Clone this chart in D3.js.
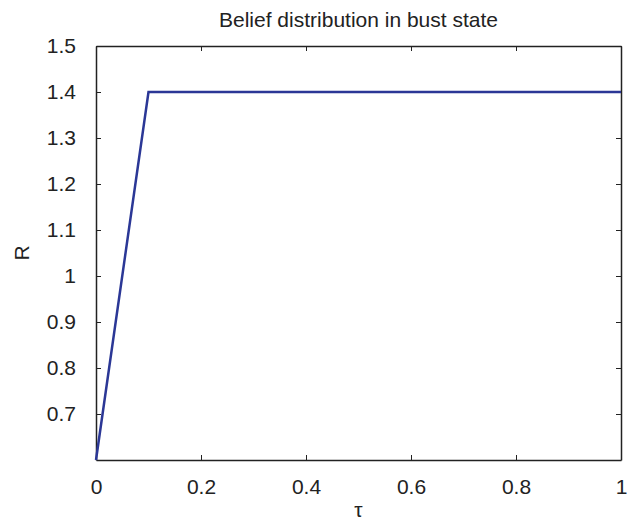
<!DOCTYPE html>
<html>
<head>
<meta charset="utf-8">
<script src="https://cdn.jsdelivr.net/npm/d3@7"></script>
<style>
  body { margin: 0; background: #fff; }
  text { font-family: "Liberation Sans", Arial, sans-serif; fill: #222; }
</style>
</head>
<body>
<div id="chart"></div>
<script>
var tau = [0, 0.1, 0.2, 0.3, 0.4, 0.5, 0.6, 0.7, 0.8, 0.9, 1];
var R = [0.6, 1.4, 1.4, 1.4, 1.4, 1.4, 1.4, 1.4, 1.4, 1.4, 1.4];
var xTicks = [0, 0.2, 0.4, 0.6, 0.8, 1];
var yTicks = [0.7, 0.8, 0.9, 1, 1.1, 1.2, 1.3, 1.4, 1.5];

var W = 627, H = 522,
    margin = {top: 46, right: 6, bottom: 62, left: 96},
    width = W - margin.left - margin.right,
    height = H - margin.top - margin.bottom;

var svg = d3.select("#chart").append("svg").attr("width", W).attr("height", H),
    g = svg.append("g").attr("transform", "translate(" + margin.left + "," + margin.top + ")");

var x = d3.scaleLinear().domain([0, 1]).range([0, width]),
    y = d3.scaleLinear().domain([0.6, 1.5]).range([height, 0]);

function fmt(d) { return d3.format("")(+d.toFixed(1)); }

// axes with inward ticks on all sides
g.append("g").attr("transform", "translate(0," + height + ")")
  .call(d3.axisBottom(x).tickValues(xTicks).tickSizeInner(-5).tickSizeOuter(0).tickPadding(19).tickFormat(fmt));
g.append("g").call(d3.axisTop(x).tickValues(xTicks).tickSizeInner(-5).tickSizeOuter(0).tickFormat(""));
g.append("g").call(d3.axisLeft(y).tickValues(yTicks).tickSizeInner(-5).tickSizeOuter(0).tickPadding(20).tickFormat(fmt));
g.append("g").attr("transform", "translate(" + width + ",0)")
  .call(d3.axisRight(y).tickValues(yTicks).tickSizeInner(-5).tickSizeOuter(0).tickFormat(""));

g.selectAll(".domain").attr("stroke", "#222").attr("stroke-width", 1.5);
g.selectAll(".tick line").attr("stroke", "#222");
g.selectAll(".tick text").attr("font-size", 21).attr("fill", "#222")
  .attr("font-family", "'Liberation Sans', Arial, sans-serif");

var line = d3.line().x(function(d, i) { return x(tau[i]); }).y(function(d) { return y(d); });
g.append("path").datum(R)
  .attr("d", line)
  .attr("fill", "none")
  .attr("stroke", "#2b3796")
  .attr("stroke-width", 2.5);

svg.append("text").attr("x", margin.left + width / 2).attr("y", 27)
  .attr("text-anchor", "middle").attr("font-size", 21).text("Belief distribution in bust state");

svg.append("text").attr("transform", "translate(29," + 253 + ") rotate(-90)")
  .attr("text-anchor", "middle").attr("font-size", 21).text("R");

svg.append("text").attr("x", margin.left + width / 2).attr("y", 517)
  .attr("text-anchor", "middle").attr("font-size", 21).attr("font-family", "'DejaVu Serif', serif").text("τ");
</script>
</body>
</html>
